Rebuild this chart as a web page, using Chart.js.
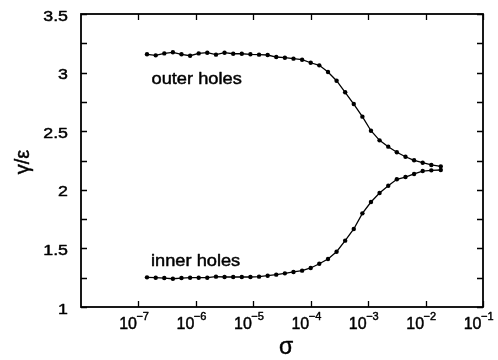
<!DOCTYPE html>
<html>
<head>
<meta charset="utf-8">
<script src="https://cdn.jsdelivr.net/npm/chart.js@4/dist/chart.umd.min.js"></script>
<style>
  html, body { margin: 0; padding: 0; background: #fff; }
  #wrap { width: 498px; height: 360px; position: relative; }
</style>
</head>
<body>
<div id="wrap"><canvas id="c"></canvas></div>
<script>
// sigma values (x, log scale)
const sigma = [1.41e-7, 2.00e-7, 2.82e-7, 3.98e-7, 5.62e-7, 7.94e-7, 1.12e-6, 1.58e-6,
  2.24e-6, 3.16e-6, 4.47e-6, 6.31e-6, 8.91e-6, 1.26e-5, 1.78e-5, 2.51e-5, 3.55e-5,
  5.01e-5, 7.08e-5, 1.00e-4, 1.41e-4, 2.00e-4, 2.82e-4, 3.98e-4, 5.62e-4, 7.94e-4,
  1.12e-3, 1.58e-3, 2.24e-3, 3.16e-3, 4.47e-3, 6.31e-3, 8.91e-3, 1.26e-2, 1.84e-2];

// gamma/epsilon for the outer holes
const outerHoles = [3.156, 3.147, 3.164, 3.173, 3.156, 3.144, 3.164, 3.170, 3.153, 3.170,
  3.161, 3.161, 3.156, 3.153, 3.150, 3.133, 3.127, 3.119, 3.110, 3.084, 3.062, 3.005,
  2.931, 2.832, 2.732, 2.624, 2.504, 2.422, 2.368, 2.320, 2.282, 2.252, 2.231, 2.212, 2.200];

// gamma/epsilon for the inner holes
const innerHoles = [1.253, 1.250, 1.247, 1.241, 1.247, 1.250, 1.250, 1.250, 1.259, 1.256,
  1.256, 1.256, 1.256, 1.259, 1.267, 1.276, 1.287, 1.299, 1.310, 1.333, 1.369, 1.410,
  1.472, 1.566, 1.666, 1.799, 1.896, 1.973, 2.035, 2.090, 2.109, 2.135, 2.160, 2.166, 2.169];

// axis ticks
const xTickExponents = [-7, -6, -5, -4, -3, -2, -1];
const yTickLabels = ['1', '1.5', '2', '2.5', '3', '3.5'];
const yMinorTicks = [1.25, 1.75, 2.25, 2.75, 3.25];

const toPoints = (xs, ys) => xs.map((x, i) => ({ x: x, y: ys[i] }));
const last = sigma.length - 1;

const FONT = '"Liberation Sans", Arial, Helvetica, sans-serif';

// text with a light outline so the strokes read a bit heavier
function stretchedText(ctx, text, x, y, size, align, sx) {
  ctx.save();
  ctx.font = size + 'px ' + FONT;
  ctx.translate(x, y);
  ctx.scale(sx, 1);
  ctx.textAlign = align;
  ctx.textBaseline = 'alphabetic';
  ctx.lineWidth = 0.45;
  ctx.lineJoin = 'round';
  ctx.strokeStyle = '#000';
  ctx.fillText(text, 0, 0);
  ctx.strokeText(text, 0, 0);
  ctx.restore();
}

const framePlugin = {
  id: 'frame',
  afterDraw(chart) {
    const ctx = chart.ctx;
    const a = chart.chartArea;
    const xs = chart.scales.x, ys = chart.scales.y;
    const tl = 6;
    ctx.save();
    ctx.strokeStyle = '#000';
    ctx.fillStyle = '#000';
    ctx.lineWidth = 1.8;
    ctx.strokeRect(a.left, a.top, a.right - a.left, a.bottom - a.top);

    ctx.lineWidth = 1.3;
    ctx.beginPath();
    // x ticks, inward at bottom and top
    xTickExponents.forEach(e => {
      const px = Math.round(xs.getPixelForValue(Math.pow(10, e))) + 0.5;
      ctx.moveTo(px, a.bottom); ctx.lineTo(px, a.bottom - tl);
      ctx.moveTo(px, a.top); ctx.lineTo(px, a.top + tl);
    });
    // y ticks, inward at left and right
    const yAll = yTickLabels.map(Number).concat(yMinorTicks);
    yAll.forEach(v => {
      const py = Math.round(ys.getPixelForValue(v)) + 0.5;
      ctx.moveTo(a.left, py); ctx.lineTo(a.left + tl, py);
      ctx.moveTo(a.right, py); ctx.lineTo(a.right - tl, py);
    });
    ctx.stroke();

    // y tick labels
    yTickLabels.forEach(t => {
      const py = ys.getPixelForValue(Number(t));
      stretchedText(ctx, t, a.left - 13, py + 6.5, 14, 'right', 1.27);
    });

    // x tick labels: 10 with a raised exponent
    xTickExponents.forEach(e => {
      const px = xs.getPixelForValue(Math.pow(10, e));
      stretchedText(ctx, '10', px - 1.5, a.bottom + 21.5, 16, 'right', 1.0);
      stretchedText(ctx, '\u2212' + Math.abs(e), px - 2, a.bottom + 13, 11, 'left', 1.0);
    });

    // curve labels
    stretchedText(ctx, 'outer holes', 151.5, 83.5, 16, 'left', 1.14);
    stretchedText(ctx, 'inner holes', 151, 266, 16, 'left', 1.14);

    // axis titles
    stretchedText(ctx, '\u03c3', 286, 354, 23, 'center', 1.0);
    ctx.save();
    ctx.translate(29, 162);
    ctx.rotate(-Math.PI / 2);
    stretchedText(ctx, '\u03b3/\u03b5', 0, 0, 20, 'center', 1.0);
    ctx.restore();
    ctx.restore();
  }
};

const lineStyle = {
  borderColor: '#000',
  backgroundColor: '#000',
  borderWidth: 1.3,
  pointRadius: 2.2,
  pointBorderWidth: 0,
  pointBackgroundColor: '#000',
  tension: 0,
  fill: false
};

new Chart(document.getElementById('c'), {
  type: 'line',
  data: {
    datasets: [
      Object.assign({ label: 'outer holes', data: toPoints(sigma, outerHoles) }, lineStyle),
      Object.assign({ label: 'inner holes', data: toPoints(sigma, innerHoles) }, lineStyle),
      Object.assign({}, lineStyle, {
        label: 'end',
        pointRadius: 0,
        data: [{ x: sigma[last], y: outerHoles[last] }, { x: sigma[last], y: innerHoles[last] }]
      })
    ]
  },
  options: {
    responsive: true,
    maintainAspectRatio: false,
    animation: false,
    layout: { padding: { left: 81, top: 14, right: 15, bottom: 53 } },
    plugins: { legend: { display: false }, tooltip: { enabled: false } },
    scales: {
      x: { type: 'logarithmic', min: 1e-8, max: 1e-1, display: false },
      y: { type: 'linear', min: 1, max: 3.5, display: false }
    }
  },
  plugins: [framePlugin]
});
</script>
</body>
</html>
